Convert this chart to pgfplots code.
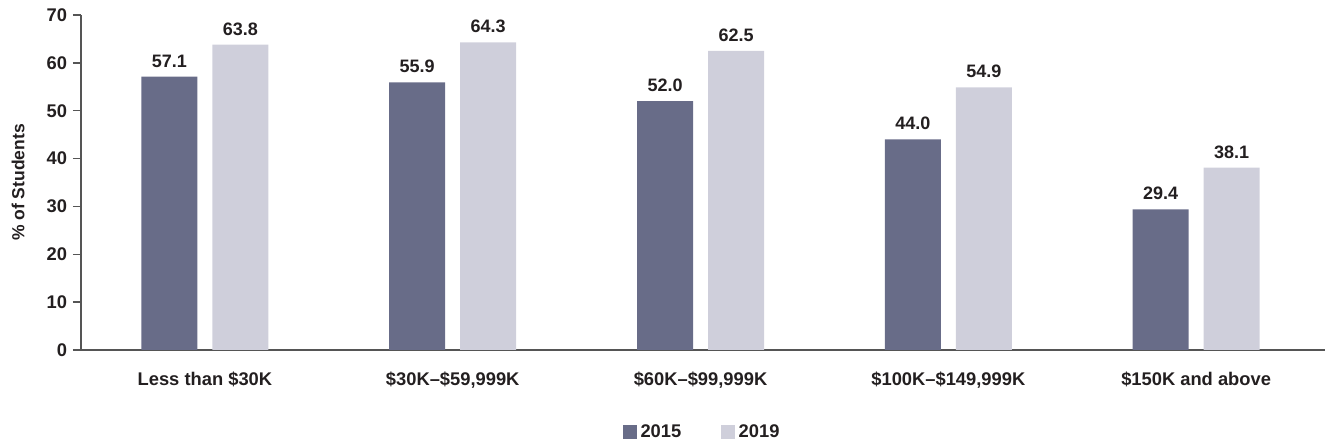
\documentclass[border=0pt]{standalone}
\usepackage{pgfplots}
\pgfplotsset{compat=1.18}
\usepackage{fontspec}
\setmainfont{Liberation Sans}
\definecolor{cA}{HTML}{686C88}
\definecolor{cB}{HTML}{CFCFDB}
\definecolor{txt}{HTML}{231F20}
\definecolor{axl}{HTML}{555555}
\begin{document}
\begin{tikzpicture}
\begin{axis}[
  name=ax,
  scale only axis, width=746.4pt, height=201pt,
  ymin=0, ymax=70, ytick={0,10,...,70},
  xmin=-0.5, xmax=4.52,
  xtick={0,1,2,3,4},
  xticklabels={{Less than \$30K}, {\$30K–\$59,999K}, {\$60K–\$99,999K}, {\$100K–\$149,999K}, {\$150K and above}},
  axis lines=left,
  axis line style={-, draw=axl, line width=0.9pt},
  ytick pos=left, xtick pos=bottom,
  tick align=outside,
  major tick length=4.8pt,
  y tick style={draw=axl, line width=0.9pt},
  x tick style={draw=none},
  /pgf/number format/assume math mode=true,
  tick label style={font=\fontsize{11}{13}\selectfont\bfseries, text=txt},
  xticklabel style={yshift=-5pt},
  ylabel={\bfseries\% of Students},
  ylabel style={at={(axis description cs:-0.0506,0.5)}, anchor=center, text=txt, font=\fontsize{10.5}{12}\selectfont},
  ybar=9pt, bar width=33.6pt,
  nodes near coords={\pgfmathprintnumber[fixed,fixed zerofill,precision=1]{\pgfplotspointmeta}},
  every node near coord/.append style={font=\fontsize{10.8}{12}\selectfont\bfseries, text=txt, anchor=south, inner sep=0pt, yshift=5.4pt},
  legend style={at={(0.5,-0.245)}, anchor=center, legend columns=2, draw=none, font=\fontsize{11}{13}\selectfont\bfseries, text=txt,
    /tikz/every even column/.append style={column sep=22pt}},
  legend image code/.code={\fill[#1] (0pt,-4.2pt) rectangle (8.4pt,4.2pt);},
  clip=false,
]
\addplot[fill=cA, draw=none] coordinates {(0,57.1) (1,55.9) (2,52.0) (3,44.0) (4,29.4)};
\addplot[fill=cB, draw=none] coordinates {(0,63.8) (1,64.3) (2,62.5) (3,54.9) (4,38.1)};
\legend{2015,2019}
\end{axis}
\pgfresetboundingbox
\path[use as bounding box] ([shift={(-48.6pt,-55.8pt)}]ax.south west) rectangle ([yshift=9pt]ax.north east);
\end{tikzpicture}
\end{document}
